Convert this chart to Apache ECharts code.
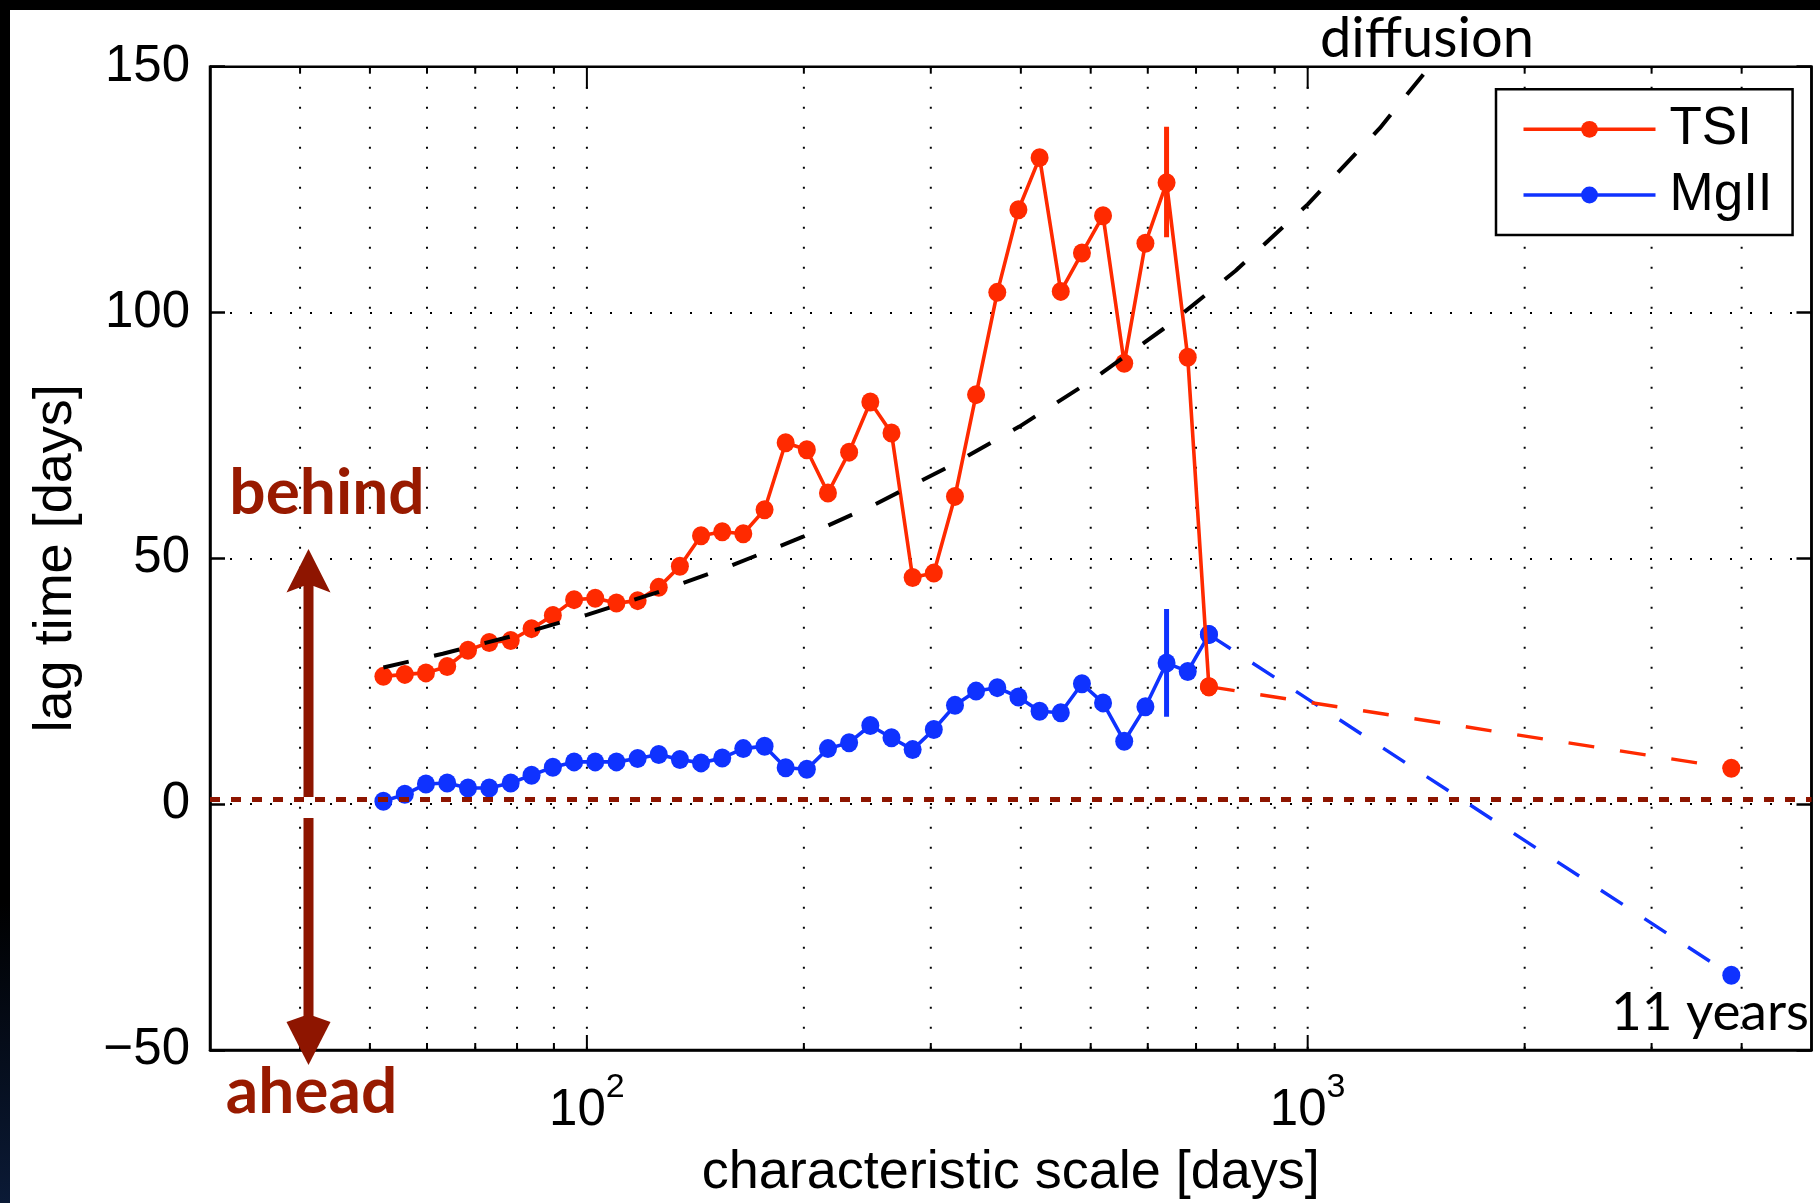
<!DOCTYPE html>
<html>
<head>
<meta charset="utf-8">
<script src="https://cdn.jsdelivr.net/npm/echarts@6/dist/echarts.min.js"></script>
<style>
  html, body { margin: 0; padding: 0; width: 1820px; height: 1203px; overflow: hidden;
    background: linear-gradient(to bottom, #000 75%, #0b1a36 100%); }
  #chart { position: absolute; left: 10px; top: 10px; width: 1810px; height: 1193px; background: #fff; }
</style>
</head>
<body>
<div id="chart"></div>
<script>
// ---------- data ----------
const scales = [52.2, 55.9, 59.8, 64.0, 68.4, 73.2, 78.4, 83.8, 89.7, 96.0,
  102.7, 109.9, 117.6, 125.8, 134.6, 144.0, 154.1, 164.8, 176.4, 188.7,
  201.9, 216.0, 231.1, 247.3, 264.6, 283.1, 302.9, 324.1, 346.7, 371.0,
  396.9, 424.7, 454.4, 486.2, 520.1, 556.5, 595.5, 637.1, 681.7, 729.4];
const tsiLag = [26.0, 26.4, 26.7, 28.0, 31.3, 32.9, 33.3, 35.7, 38.4, 41.6,
  41.9, 40.9, 41.4, 44.1, 48.4, 54.6, 55.4, 55.0, 59.9, 73.5,
  72.1, 63.3, 71.6, 81.8, 75.5, 46.1, 47.0, 62.6, 83.3, 104.1,
  120.9, 131.5, 104.3, 112.1, 119.7, 89.7, 114.1, 126.4, 90.9, 23.9];
const mgLag = [0.6, 2.0, 4.1, 4.3, 3.3, 3.3, 4.3, 5.9, 7.5, 8.6,
  8.6, 8.6, 9.3, 10.1, 9.1, 8.4, 9.4, 11.3, 11.8, 7.4,
  7.1, 11.3, 12.5, 16.0, 13.5, 11.1, 15.2, 20.1, 23.0, 23.7,
  21.8, 18.9, 18.6, 24.5, 20.6, 12.8, 19.8, 28.7, 27.0, 34.5];
// 11-year point
const elevenYearScale = 3870;
const tsiEleven = 7.3;
const mgEleven = -34.8;
// error bars (at one scale)
const errScale = 637.1;
const tsiErr = [115.3, 137.8];
const mgErr = [17.8, 39.7];
// diffusion guide curve
const diffScale = [52.2, 63.1, 79.4, 100, 125.9, 158.5, 199.5, 251.2, 316.2, 398.1, 501.2, 631, 794.3, 1000, 1259, 1514];
const diffLag = [27.8, 30.6, 34.3, 38.5, 43.2, 48.5, 54.4, 61.0, 68.5, 76.8, 86.2, 96.7, 108.5, 122.0, 137.5, 152.0];
// axes
const xMin = 30, xMax = 5000;
const yMin = -50, yMax = 150, yStep = 50;
const xGridLines = [40, 50, 60, 70, 80, 90, 100, 200, 300, 400, 500, 600, 700, 800, 900, 1000, 2000, 3000, 4000];
const xMajorTicks = [100, 1000];
const zeroLineValue = 1;

// ---------- styles ----------
const RED = '#ff2a00', BLUE = '#0f32ff', DARKRED = '#8e1500';
const FONT = "'Liberation Sans', Arial, Helvetica, sans-serif";

const zip = (xs, ys) => xs.map((x, i) => [x, ys[i]]);

const chart = echarts.init(document.getElementById('chart'), null, { renderer: 'canvas' });

const option = {
  animation: false,
  backgroundColor: '#fff',
  grid: { left: 200, right: 8.5, top: 56.7, bottom: 153, containLabel: false, outerBoundsMode: 'none',
    show: true, borderColor: '#000', borderWidth: 2.5, backgroundColor: 'transparent' },
  legend: {
    data: ['TSI', 'MgII'],
    orient: 'vertical',
    left: 1486, top: 79.3,
    padding: [13.5, 20, 13.5, 25.7],
    itemWidth: 132, itemHeight: 21, itemGap: 12.7,
    lineStyle: { width: 3.6 },
    borderColor: '#000', borderWidth: 2.5, borderRadius: 0, backgroundColor: '#fff',
    textStyle: { fontSize: 53, fontFamily: FONT, color: '#000', padding: [0, 0, 0, 9] }
  },
  xAxis: {
    type: 'log', logBase: 10, min: xMin, max: xMax,
    name: 'characteristic scale [days]', nameLocation: 'middle', nameGap: 96,
    nameTextStyle: { fontSize: 54, fontFamily: FONT, color: '#000' },
    axisLine: { show: true, onZero: false, lineStyle: { color: '#000', width: 2.5 } },
    axisTick: { show: false },
    splitLine: { show: false },
    minorTick: { show: false }, minorSplitLine: { show: false },
    axisLabel: {
      margin: 21, showMinLabel: true, showMaxLabel: true,
      formatter: function (v) {
        for (const t of xMajorTicks) {
          if (Math.abs(v - t) < 1e-6 * t) return '{b|10}{s|' + Math.round(Math.log10(t)) + '}';
        }
        return '';
      },
      rich: {
        b: { fontSize: 51, fontFamily: FONT, color: '#000', lineHeight: 80 },
        s: { fontSize: 34, fontFamily: FONT, color: '#000', lineHeight: 25, verticalAlign: 'top' }
      }
    }
  },
  yAxis: [{
    type: 'value', min: yMin, max: yMax, interval: yStep,
    name: 'lag time [days]', nameLocation: 'middle', nameGap: 127, nameRotate: 90,
    nameTextStyle: { fontSize: 54, fontFamily: FONT, color: '#000' },
    axisLine: { show: true, onZero: false, lineStyle: { color: '#000', width: 2.5 } },
    axisTick: { show: true, inside: true, length: 15, lineStyle: { color: '#000', width: 2.5 } },
    axisLabel: { margin: 20, fontSize: 51, fontFamily: FONT, color: '#000',
      formatter: v => String(v).replace('-', '\u2212') },
    splitLine: { show: true, lineStyle: { color: '#000', width: 2, type: [2, 18] } }
  }, {
    type: 'value', min: yMin, max: yMax, interval: yStep, position: 'right',
    axisLine: { show: true, onZero: false, lineStyle: { color: '#000', width: 2.5 } },
    axisTick: { show: true, inside: true, length: 15, lineStyle: { color: '#000', width: 2.5 } },
    axisLabel: { show: false }, splitLine: { show: false }
  }],
  series: [
    {
      type: 'custom', name: 'xgrid', silent: true, z: 1,
      data: xGridLines.map(v => [v, yMin]),
      encode: { x: 0, y: 1 },
      renderItem: function (params, api) {
        const v = api.value(0);
        const pTop = api.coord([v, yMax]);
        const pBot = api.coord([v, yMin]);
        const major = xMajorTicks.indexOf(v) >= 0;
        return { type: 'group', children: [
          { type: 'line', shape: { x1: pTop[0], y1: pTop[1], x2: pBot[0], y2: pBot[1] },
            style: { stroke: '#000', lineWidth: 2, lineDash: [2, 18] } },
          { type: 'line', shape: { x1: pBot[0], y1: pBot[1], x2: pBot[0], y2: pBot[1] - (major ? 15 : 7) },
            style: { stroke: '#000', lineWidth: 2 } },
          { type: 'line', shape: { x1: pTop[0], y1: pTop[1], x2: pTop[0], y2: pTop[1] + (major ? 22 : 7) },
            style: { stroke: '#000', lineWidth: 2 } }
        ] };
      }
    },
    {
      type: 'line', name: 'zero', data: [], silent: true, z: 1,
      markLine: {
        silent: true, symbol: 'none', label: { show: false }, animation: false,
        lineStyle: { color: DARKRED, width: 5, type: [10, 11] },
        data: [{ yAxis: zeroLineValue }]
      }
    },
    {
      type: 'line', name: 'MgII', data: zip(scales, mgLag),
      symbol: 'circle', symbolSize: [18, 19], showAllSymbol: true,
      lineStyle: { color: BLUE, width: 3.6 }, itemStyle: { color: BLUE }, z: 3
    },
    {
      type: 'line', name: 'MgII ext', data: [[scales[scales.length - 1], mgLag[mgLag.length - 1]], [elevenYearScale, mgEleven]],
      symbol: 'circle', symbolSize: [18, 19],
      lineStyle: { color: BLUE, width: 3.4, type: [26, 26] }, itemStyle: { color: BLUE }, z: 3
    },
    {
      type: 'line', name: 'MgII err', data: [[errScale, mgErr[0]], [errScale, mgErr[1]]],
      symbol: 'none', lineStyle: { color: BLUE, width: 5 }, z: 3
    },
    {
      type: 'line', name: 'TSI', data: zip(scales, tsiLag),
      symbol: 'circle', symbolSize: [18, 19], showAllSymbol: true,
      lineStyle: { color: RED, width: 3.6 }, itemStyle: { color: RED }, z: 4
    },
    {
      type: 'line', name: 'TSI ext', data: [[scales[scales.length - 1], tsiLag[tsiLag.length - 1]], [elevenYearScale, tsiEleven]],
      symbol: 'circle', symbolSize: [18, 19],
      lineStyle: { color: RED, width: 3.4, type: [26, 26] }, itemStyle: { color: RED }, z: 4
    },
    {
      type: 'line', name: 'TSI err', data: [[errScale, tsiErr[0]], [errScale, tsiErr[1]]],
      symbol: 'none', lineStyle: { color: RED, width: 5 }, z: 4
    },
    {
      type: 'line', name: 'diffusion', data: zip(diffScale, diffLag),
      symbol: 'none', clip: true,
      lineStyle: { color: '#000', width: 4, type: [26, 26] }, z: 5
    }
  ],
  graphic: [
    { type: 'text', z: 100, style: { x: 1310, y: 29, text: 'diffusion', fill: '#000',
        font: "400 56px Lato, 'Open Sans', sans-serif", align: 'left', verticalAlign: 'middle' } },
    { type: 'text', z: 100, style: { x: 1799, y: 1002.5, text: '11 years', fill: '#000',
        font: "400 53px Lato, 'Open Sans', sans-serif", align: 'right', verticalAlign: 'middle' } },
    { type: 'text', z: 100, style: { x: 317, y: 483.2, text: 'behind', fill: '#981a00',
        font: "700 64px Lato, 'Open Sans', sans-serif", align: 'center', verticalAlign: 'middle' } },
    { type: 'text', z: 100, style: { x: 301.5, y: 1082.2, text: 'ahead', fill: '#981a00',
        font: "700 64px Lato, 'Open Sans', sans-serif", align: 'center', verticalAlign: 'middle' } },
    // up arrow
    { type: 'rect', z: 100, shape: { x: 293.5, y: 575, width: 10, height: 212 }, style: { fill: DARKRED } },
    { type: 'polygon', z: 100, shape: { points: [[298.5, 539], [320.5, 582.5], [303.5, 576], [293.5, 576], [276.5, 582.5]] }, style: { fill: DARKRED } },
    // down arrow
    { type: 'rect', z: 100, shape: { x: 293.5, y: 808, width: 10, height: 200 }, style: { fill: DARKRED } },
    { type: 'polygon', z: 100, shape: { points: [[276.5, 1012], [293.5, 1006], [303.5, 1006], [320.5, 1012], [298.5, 1055]] }, style: { fill: DARKRED } }
  ]
};
chart.setOption(option);
</script>
</body>
</html>
